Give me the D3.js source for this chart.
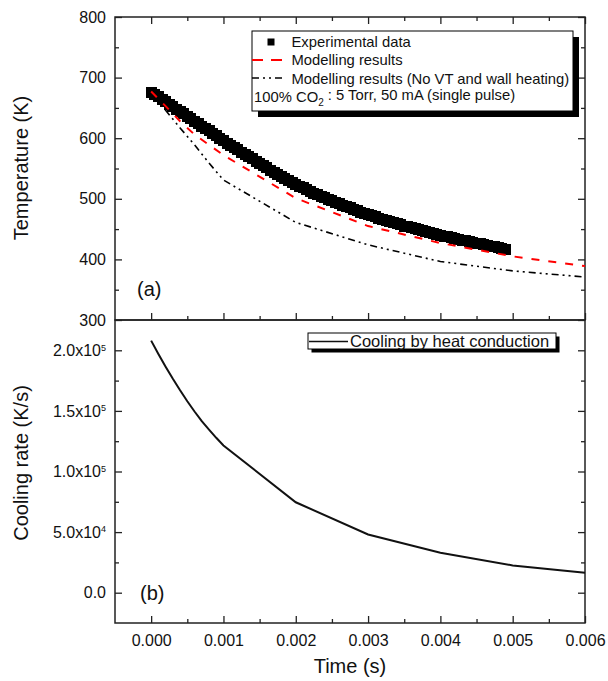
<!DOCTYPE html>
<html>
<head>
<meta charset="utf-8">
<script src="https://cdn.jsdelivr.net/npm/d3@7"></script>
<style>
  body { margin: 0; background: #fff; }
  text { font-family: 'Liberation Sans', Arial, sans-serif; fill: #111; }
</style>
</head>
<body>
<div id="chart"></div>
<script>
// experimental temperature (black squares), every 0.05 ms
const expTime = [
  0, 0.00005, 0.0001, 0.00015, 0.0002, 0.00025, 0.0003, 0.00035, 0.0004, 0.00045,
  0.0005, 0.00055, 0.0006, 0.00065, 0.0007, 0.00075, 0.0008, 0.00085, 0.0009, 0.00095,
  0.001, 0.00105, 0.0011, 0.00115, 0.0012, 0.00125, 0.0013, 0.00135, 0.0014, 0.00145,
  0.0015, 0.00155, 0.0016, 0.00165, 0.0017, 0.00175, 0.0018, 0.00185, 0.0019, 0.00195,
  0.002, 0.00205, 0.0021, 0.00215, 0.0022, 0.00225, 0.0023, 0.00235, 0.0024, 0.00245,
  0.0025, 0.00255, 0.0026, 0.00265, 0.0027, 0.00275, 0.0028, 0.00285, 0.0029, 0.00295,
  0.003, 0.00305, 0.0031, 0.00315, 0.0032, 0.00325, 0.0033, 0.00335, 0.0034, 0.00345,
  0.0035, 0.00355, 0.0036, 0.00365, 0.0037, 0.00375, 0.0038, 0.00385, 0.0039, 0.00395,
  0.004, 0.00405, 0.0041, 0.00415, 0.0042, 0.00425, 0.0043, 0.00435, 0.0044, 0.00445,
  0.0045, 0.00455, 0.0046, 0.00465, 0.0047, 0.00475, 0.0048, 0.00485, 0.0049,
];
const expTemp = [
  675, 672, 668, 664, 660, 656, 652, 648, 644, 640,
  636, 632, 628, 624, 620, 616, 612, 608, 604, 600,
  596, 592, 588, 584.5, 581, 577, 573, 569.5, 566, 562,
  558, 554.5, 551, 547.5, 544, 540.5, 537, 533.5, 530, 527,
  524, 521, 518, 515, 512, 509.5, 507, 504.5, 502, 499.5,
  497, 494.5, 492, 489.5, 487, 485, 483, 480.5, 478, 476,
  474, 472, 470, 468, 466, 464, 462, 460.5, 459, 457,
  455, 453.5, 452, 450.5, 449, 447.5, 446, 444.5, 443, 441.5,
  440, 438.5, 437, 435.5, 434, 433, 432, 430.5, 429, 428,
  427, 425.5, 424, 423, 422, 421, 420, 418.5, 416,
];

// model curves
const modelTime = [0, 0.0002, 0.0004, 0.0006, 0.0008, 0.001, 0.002, 0.003, 0.004, 0.005, 0.006];
const modelTemp = [677, 653, 628, 606, 589, 572, 501, 455, 427, 405, 389];
const noVtTemp = [677, 646, 617, 589, 559, 531, 461, 424, 396.5, 381, 371];

// cooling rate by heat conduction
const rateTime = [
  0, 0.0001, 0.0002, 0.0003, 0.0004, 0.0005, 0.0006, 0.0007, 0.0008, 0.0009,
  0.001, 0.002, 0.003, 0.004, 0.005, 0.006,
];
const rateValue = [
  208000, 197000, 186500, 176500, 167000, 158000, 149500, 141500, 134500, 127800,
  121500, 74600, 48000, 33000, 22500, 16500,
];

const timeTicks = [0, 0.001, 0.002, 0.003, 0.004, 0.005, 0.006];
const timeMinor = [0.0005, 0.0015, 0.0025, 0.0035, 0.0045, 0.0055];
const tempTicks = [300, 400, 500, 600, 700, 800];
const tempMinor = [350, 450, 550, 650, 750];
const rateTicks = [0, 50000, 100000, 150000, 200000];
const rateMinor = [25000, 75000, 125000, 175000];

const legendTop = [
  'Experimental data',
  'Modelling results',
  'Modelling results (No VT and wall heating)',
];

function drawChart() {
  const width = 608,
    height = 681,
    left = 115,
    right = 585;

  const x = d3.scaleLinear().domain([-0.0005, 0.006]).range([left, right]);
  const yTop = d3.scaleLinear().domain([300, 800]).range([320, 17]);
  const yBot = d3.scaleLinear().domain([-25000, 225000]).range([623, 320]);

  const svg = d3
    .select('#chart')
    .append('svg')
    .attr('width', width)
    .attr('height', height);

  // inward ticks on all sides of a panel
  function ticks(y, yTicks, yMinor, top, bottom, withXLabels, yFormat) {
    const g = svg.append('g');
    const addAxis = (axis, tr) => {
      const a = g.append('g').attr('transform', tr).call(axis);
      a.select('.domain').remove();
      a.selectAll('line').attr('stroke', '#222').attr('stroke-width', 1.3);
      return a;
    };
    const bx = addAxis(
      d3.axisBottom(x).tickValues(timeTicks).tickSize(-7).tickPadding(12)
        .tickFormat(withXLabels ? d3.format('.3f') : ''),
      `translate(0,${bottom})`
    );
    bx.selectAll('text').attr('font-size', '16px');
    addAxis(d3.axisBottom(x).tickValues(timeMinor).tickSize(-4).tickFormat(''), `translate(0,${bottom})`);
    if (top !== null) {
      addAxis(d3.axisTop(x).tickValues(timeTicks).tickSize(-7).tickFormat(''), `translate(0,${top})`);
      addAxis(d3.axisTop(x).tickValues(timeMinor).tickSize(-4).tickFormat(''), `translate(0,${top})`);
    }
    const ly = addAxis(
      d3.axisLeft(y).tickValues(yTicks).tickSize(-7).tickPadding(9).tickFormat(yFormat),
      `translate(${left},0)`
    );
    ly.selectAll('text').attr('font-size', '16px');
    addAxis(d3.axisLeft(y).tickValues(yMinor).tickSize(-4).tickFormat(''), `translate(${left},0)`);
    addAxis(d3.axisRight(y).tickValues(yTicks).tickSize(-7).tickFormat(''), `translate(${right},0)`);
    addAxis(d3.axisRight(y).tickValues(yMinor).tickSize(-4).tickFormat(''), `translate(${right},0)`);
    return ly;
  }

  ticks(yTop, tempTicks, tempMinor, 17, 320, false, d3.format('d'));
  const rateAxis = ticks(yBot, rateTicks, rateMinor, null, 623, true, (d) => d);

  rateAxis.selectAll('.tick text').each(function (d) {
    const t = d3.select(this);
    t.text(null);
    if (d === 0) {
      t.text('0.0');
      return;
    }
    const e = Math.floor(Math.log10(d));
    const m = (d / Math.pow(10, e)).toFixed(1);
    t.append('tspan').text(`${m}x10`);
    t.append('tspan').attr('dy', '-0.6em').attr('font-size', '9px').text(e);
  });

  // frames
  svg
    .selectAll('rect.frame')
    .data([[17, 320], [320, 623]])
    .enter()
    .append('rect')
    .attr('class', 'frame')
    .attr('x', left)
    .attr('y', (d) => d[0])
    .attr('width', right - left)
    .attr('height', (d) => d[1] - d[0])
    .attr('fill', 'none')
    .attr('stroke', '#222')
    .attr('stroke-width', 1.5);

  // top panel data
  const clipTop = svg.append('clipPath').attr('id', 'clip-top');
  clipTop.append('rect').attr('x', left).attr('y', 17).attr('width', right - left).attr('height', 303);

  const plotTop = svg.append('g').attr('clip-path', 'url(#clip-top)');

  const line = d3
    .line()
    .x((d) => x(d[0]))
    .y((d) => yTop(d[1]));

  plotTop
    .selectAll('rect.exp')
    .data(expTime.map((t, i) => [t, expTemp[i]]))
    .enter()
    .append('rect')
    .attr('class', 'exp')
    .attr('x', (d) => x(d[0]) - 5.5)
    .attr('y', (d) => yTop(d[1]) - 5.5)
    .attr('width', 11)
    .attr('height', 11)
    .attr('fill', '#000')
    .attr('shape-rendering', 'crispEdges');

  plotTop
    .append('path')
    .datum(modelTime.map((t, i) => [t, noVtTemp[i]]))
    .attr('d', line)
    .attr('fill', 'none')
    .attr('stroke', '#000')
    .attr('stroke-width', 1.6)
    .attr('stroke-dasharray', '7,4,2,4,2,4');

  plotTop
    .append('path')
    .datum(modelTime.map((t, i) => [t, modelTemp[i]]))
    .attr('d', line)
    .attr('fill', 'none')
    .attr('stroke', '#f00')
    .attr('stroke-width', 2)
    .attr('stroke-dasharray', '8,9');

  // bottom panel data
  svg
    .append('path')
    .datum(rateTime.map((t, i) => [t, rateValue[i]]))
    .attr(
      'd',
      d3
        .line()
        .x((d) => x(d[0]))
        .y((d) => yBot(d[1]))
    )
    .attr('fill', 'none')
    .attr('stroke', '#111')
    .attr('stroke-width', 2);

  // top legend
  const lg = svg.append('g');
  lg.append('rect').attr('x', 258).attr('y', 37).attr('width', 321).attr('height', 80).attr('fill', '#000');
  lg.append('rect')
    .attr('x', 252)
    .attr('y', 31)
    .attr('width', 321)
    .attr('height', 80)
    .attr('fill', '#fff')
    .attr('stroke', '#000')
    .attr('stroke-width', 1);

  lg.append('rect').attr('x', 267.5).attr('y', 38.5).attr('width', 7).attr('height', 7).attr('fill', '#000');
  lg.append('line')
    .attr('x1', 252).attr('x2', 283).attr('y1', 60).attr('y2', 60)
    .attr('stroke', '#f00').attr('stroke-width', 2).attr('stroke-dasharray', '11,8');
  lg.append('line')
    .attr('x1', 252).attr('x2', 283).attr('y1', 78).attr('y2', 78)
    .attr('stroke', '#000').attr('stroke-width', 1.6).attr('stroke-dasharray', '7,4,2,4,2,4');

  lg.selectAll('text.entry')
    .data(legendTop)
    .enter()
    .append('text')
    .attr('class', 'entry')
    .attr('x', 291.5)
    .attr('y', (d, i) => 47 + i * 18.3)
    .attr('font-size', '14.8px')
    .text((d) => d);

  const cond = lg.append('text').attr('x', 254).attr('y', 102).attr('font-size', '14.8px');
  cond.append('tspan').text('100% CO');
  cond.append('tspan').attr('dy', '0.35em').attr('font-size', '10px').text('2');
  cond.append('tspan').attr('dy', '-0.35em').text(' : 5 Torr, 50 mA (single pulse)');

  // bottom legend
  const lb = svg.append('g');
  lb.append('rect').attr('x', 311.5).attr('y', 336.5).attr('width', 248).attr('height', 16).attr('fill', '#000');
  lb.append('rect')
    .attr('x', 308)
    .attr('y', 333)
    .attr('width', 248)
    .attr('height', 16)
    .attr('fill', '#fff')
    .attr('stroke', '#000')
    .attr('stroke-width', 1);
  lb.append('line')
    .attr('x1', 309).attr('x2', 348).attr('y1', 341.5).attr('y2', 341.5)
    .attr('stroke', '#111').attr('stroke-width', 1.5);
  lb.append('text').attr('x', 350).attr('y', 347).attr('font-size', '16.5px').text('Cooling by heat conduction');

  // panel letters
  svg.append('text').attr('x', 137).attr('y', 296).attr('font-size', '20px').text('(a)');
  svg.append('text').attr('x', 140).attr('y', 600).attr('font-size', '20px').text('(b)');

  // axis titles
  svg
    .append('text')
    .attr('transform', 'translate(28,168) rotate(-90)')
    .attr('text-anchor', 'middle')
    .attr('font-size', '20px')
    .text('Temperature (K)');

  svg
    .append('text')
    .attr('transform', 'translate(28,463) rotate(-90)')
    .attr('text-anchor', 'middle')
    .attr('font-size', '20px')
    .text('Cooling rate (K/s)');

  svg
    .append('text')
    .attr('x', 350)
    .attr('y', 673)
    .attr('text-anchor', 'middle')
    .attr('font-size', '20px')
    .text('Time (s)');
}

drawChart();
</script>
</body>
</html>
